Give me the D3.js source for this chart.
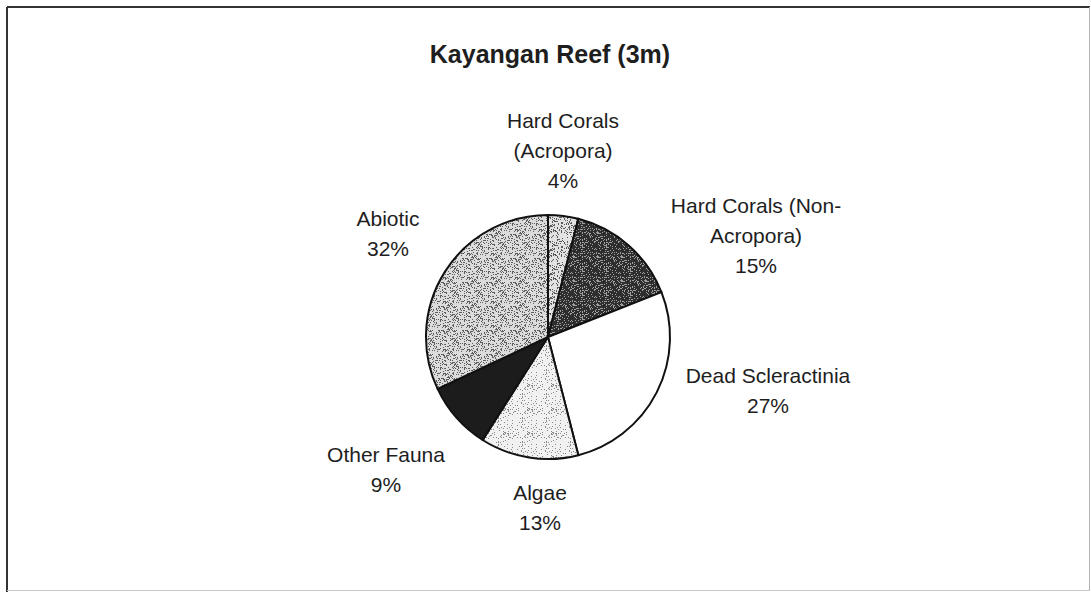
<!DOCTYPE html>
<html lang="en">
<head>
	<meta charset="utf-8">
	<title>Kayangan Reef (3m)</title>
	<script src="https://cdn.jsdelivr.net/npm/d3@7"></script>
	<style>
		html, body { margin: 0; padding: 0; background: #fff; }
		text { font-family: "Liberation Sans", Arial, sans-serif; fill: #1e1e1e; }
	</style>
</head>
<body>
	<div id="chart"></div>
	<script>

		// chart data, clockwise from 12 o'clock
		const categories = [
			"Hard Corals\n(Acropora)",
			"Hard Corals (Non-\nAcropora)",
			"Dead Scleractinia",
			"Algae",
			"Other Fauna",
			"Abiotic"
		];
		const values = [4, 15, 27, 13, 9, 32];
		const title = "Kayangan Reef (3m)";

		const W = 1091, H = 595;
		const cx = 548, cy = 337, radius = 122;

		// fill for each slice (pattern ids)
		const fills = ["url(#p-acro)", "url(#p-nonacro)", "#ffffff", "url(#p-algae)", "#1c1c1c", "url(#p-abiotic)"];

		// label blocks: centre x and first baseline, tuned by eye
		const labelAt = [
			[563, 128], [756, 213], [768, 383], [540, 500], [386, 462], [388, 226]
		];
		const lineGap = 30;

		const svg = d3.select("#chart").append("svg")
			.attr("width", W)
			.attr("height", H);

		// speckled fills: tile with scattered dots from a small hash (texture only)
		const defs = svg.append("defs");
		function hash(n) {
			n = (n ^ 61) ^ (n >>> 16);
			n = n + (n << 3);
			n = n ^ (n >>> 4);
			n = Math.imul(n, 0x27d4eb2d);
			n = n ^ (n >>> 15);
			return (n >>> 0) / 4294967296;
		}
		function speckle(id, base, dot, density, seed) {
			const size = 24;
			const p = defs.append("pattern")
				.attr("id", id)
				.attr("patternUnits", "userSpaceOnUse")
				.attr("width", size).attr("height", size);
			p.append("rect").attr("width", size).attr("height", size).attr("fill", base);
			for (let y = 0; y < size; y++) {
				for (let x = 0; x < size; x++) {
					if (hash(seed * 1000 + y * size + x) < density) {
						p.append("rect").attr("x", x).attr("y", y)
							.attr("width", 1).attr("height", 1).attr("fill", dot);
					}
				}
			}
		}
		speckle("p-acro", "#e2e2e2", "#5a5a5a", 0.22, 3);
		speckle("p-nonacro", "#2e2e2e", "#a0a0a0", 0.20, 7);
		speckle("p-algae", "#f1f1f1", "#8a8a8a", 0.12, 11);
		speckle("p-abiotic", "#dcdcdc", "#5e5e5e", 0.26, 17);

		// frame
		svg.append("line").attr("x1", 7).attr("y1", 7).attr("x2", 1090).attr("y2", 7)
			.attr("stroke", "#333").attr("stroke-width", 2);
		svg.append("line").attr("x1", 7).attr("y1", 7).attr("x2", 7).attr("y2", 592)
			.attr("stroke", "#333").attr("stroke-width", 2);
		svg.append("line").attr("x1", 1089.5).attr("y1", 7).attr("x2", 1089.5).attr("y2", 591)
			.attr("stroke", "#b5b5b5").attr("stroke-width", 1);
		svg.append("line").attr("x1", 7).attr("y1", 590.5).attr("x2", 1090).attr("y2", 590.5)
			.attr("stroke", "#c8c8c8").attr("stroke-width", 1);

		// title
		svg.append("text")
			.attr("x", 550).attr("y", 63)
			.attr("text-anchor", "middle")
			.style("font-size", "25px")
			.style("font-weight", "bold")
			.text(title);

		// pie
		const pie = d3.pie().sort(null).value(function(d) { return d; });
		const arc = d3.arc().innerRadius(0).outerRadius(radius);

		const g = svg.append("g").attr("transform", "translate(" + cx + "," + cy + ")");
		g.selectAll("path")
			.data(pie(values))
			.enter().append("path")
			.attr("d", arc)
			.attr("fill", function(d, i) { return fills[i]; })
			.attr("stroke", "#111")
			.attr("stroke-width", 2)
			.attr("stroke-linejoin", "round");

		// labels
		const labels = svg.selectAll(".lbl")
			.data(categories)
			.enter().append("text")
			.attr("class", "lbl")
			.attr("text-anchor", "middle")
			.style("font-size", "21px");

		labels.each(function(name, i) {
			const lines = name.split("\n").concat([values[i] + "%"]);
			const t = d3.select(this);
			lines.forEach(function(s, k) {
				t.append("tspan")
					.attr("x", labelAt[i][0])
					.attr("y", labelAt[i][1] + k * lineGap)
					.text(s);
			});
		});
	</script>
</body>
</html>
